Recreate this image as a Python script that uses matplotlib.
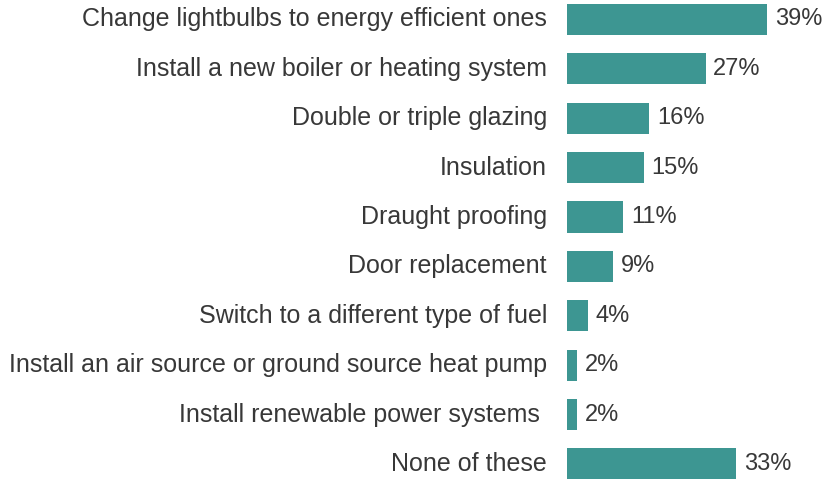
import matplotlib
matplotlib.use("Agg")
import matplotlib.pyplot as plt

categories = [
    "Change lightbulbs to energy efficient ones",
    "Install a new boiler or heating system",
    "Double or triple glazing",
    "Insulation",
    "Draught proofing",
    "Door replacement",
    "Switch to a different type of fuel",
    "Install an air source or ground source heat pump",
    "Install renewable power systems ",
    "None of these",
]
values = [39, 27, 16, 15, 11, 9, 4, 2, 2, 33]

plt.rcParams["font.family"] = ["Liberation Sans", "DejaVu Sans"]

W, H = 824, 479
fig = plt.figure(figsize=(W / 100, H / 100), dpi=100)
fig.patch.set_facecolor("white")

left_px, right_px = 567, 823
top_px, bottom_px = 0.2, 478.8
ax = fig.add_axes([left_px / W, (H - bottom_px) / H,
                   (right_px - left_px) / W, (bottom_px - top_px) / H])

ypos = list(range(len(categories)))
bar_color = "#3d9692"
ax.barh(ypos, values, height=0.63, color=bar_color, edgecolor="none")

for y, v, c in zip(ypos, values, categories):
    ax.text(v + 1.5, y, f"{v}%", va="center", ha="left",
            fontsize=17, color="#383838", clip_on=False)
    ax.text(-3.9, y, c, va="center", ha="right",
            fontsize=18, color="#383838", clip_on=False)

ax.set_xlim(0, (right_px - left_px) / 5.13)
ax.set_ylim(9.3, -0.39)
ax.axis("off")

fig.savefig("out.png", dpi=100, facecolor="white")
